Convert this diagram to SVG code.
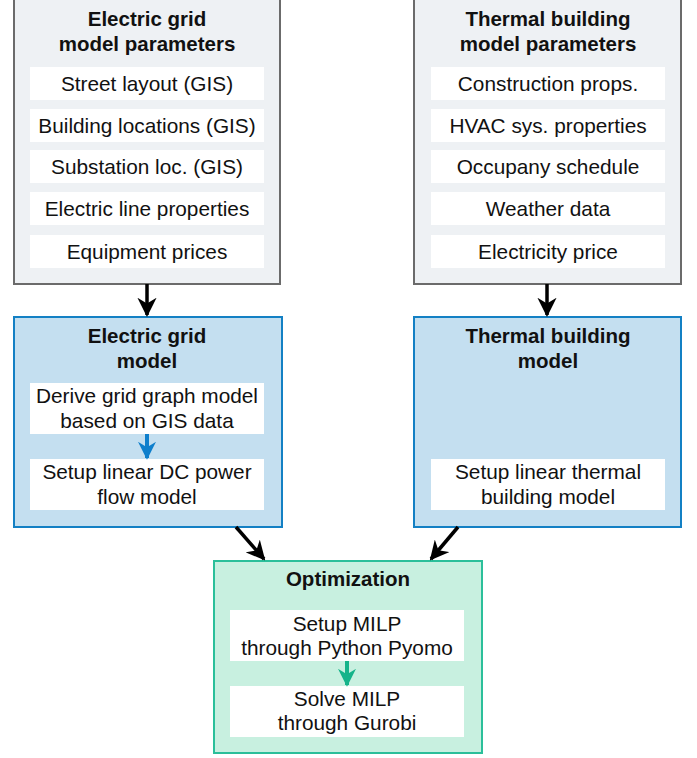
<svg xmlns="http://www.w3.org/2000/svg" width="697" height="758" viewBox="0 0 697 758">
<defs>
<style>
.gray{fill:#eef1f4;stroke:#6b6b6b;stroke-width:2}
.blue{fill:#c4dff0;stroke:#1380c4;stroke-width:2}
.green{fill:#c8f0e0;stroke:#2bbf9a;stroke-width:2}
.item{fill:#ffffff;stroke:none}
.t{font-family:"Liberation Sans",Arial,sans-serif;font-size:20.8px;fill:#111;text-anchor:middle}
.b{font-weight:bold;font-size:20.5px}
.blk{stroke:#000;stroke-width:3.5;fill:none}
</style>
<marker id="ah" viewBox="0 0 10 10" refX="9" refY="5" markerWidth="5.5" markerHeight="5.5" orient="auto" markerUnits="strokeWidth">
<path d="M0,0 L10,5 L0,10 L3,5 Z" fill="#000"/>
</marker>
<marker id="ahb" viewBox="0 0 10 10" refX="9" refY="5" markerWidth="4.5" markerHeight="4.5" orient="auto" markerUnits="strokeWidth">
<path d="M0,0 L10,5 L0,10 L3,5 Z" fill="#0e7fcc"/>
</marker>
<marker id="ahg" viewBox="0 0 10 10" refX="9" refY="5" markerWidth="4.5" markerHeight="4.5" orient="auto" markerUnits="strokeWidth">
<path d="M0,0 L10,5 L0,10 L3,5 Z" fill="#16b38a"/>
</marker>
</defs>
<g id="egparams">
<rect class="gray" x="14" y="-1" width="266" height="285"/>
<text class="t b" x="147" y="26">Electric grid</text>
<text class="t b" x="147" y="51">model parameters</text>
<rect class="item" x="30" y="67" width="234" height="33"/>
<text class="t" x="147" y="91">Street layout (GIS)</text>
<rect class="item" x="30" y="109" width="234" height="33"/>
<text class="t" x="147" y="133">Building locations (GIS)</text>
<rect class="item" x="30" y="150" width="234" height="33"/>
<text class="t" x="147" y="174">Substation loc. (GIS)</text>
<rect class="item" x="30" y="192" width="234" height="33"/>
<text class="t" x="147" y="216">Electric line properties</text>
<rect class="item" x="30" y="235" width="234" height="33"/>
<text class="t" x="147" y="259">Equipment prices</text>
</g>
<g id="tbparams">
<rect class="gray" x="414" y="-1" width="267" height="285"/>
<text class="t b" x="548" y="26">Thermal building</text>
<text class="t b" x="548" y="51">model parameters</text>
<rect class="item" x="431" y="67" width="234" height="33"/>
<text class="t" x="548" y="91">Construction props.</text>
<rect class="item" x="431" y="109" width="234" height="33"/>
<text class="t" x="548" y="133">HVAC sys. properties</text>
<rect class="item" x="431" y="150" width="234" height="33"/>
<text class="t" x="548" y="174">Occupany schedule</text>
<rect class="item" x="431" y="192" width="234" height="33"/>
<text class="t" x="548" y="216">Weather data</text>
<rect class="item" x="431" y="235" width="234" height="33"/>
<text class="t" x="548" y="259">Electricity price</text>
</g>
<g id="egmodel">
<rect class="blue" x="14" y="317" width="268" height="210"/>
<text class="t b" x="147" y="343">Electric grid</text>
<text class="t b" x="147" y="368">model</text>
<rect class="item" x="30" y="383" width="234" height="51"/>
<text class="t" x="147" y="403">Derive grid graph model</text>
<text class="t" x="147" y="428">based on GIS data</text>
<rect class="item" x="30" y="459" width="234" height="51"/>
<text class="t" x="147" y="479">Setup linear DC power</text>
<text class="t" x="147" y="504">flow model</text>
<line x1="147" y1="434" x2="147" y2="458" stroke="#0e7fcc" stroke-width="4" marker-end="url(#ahb)"/>
</g>
<g id="tbmodel">
<rect class="blue" x="414" y="317" width="267" height="210"/>
<text class="t b" x="548" y="343">Thermal building</text>
<text class="t b" x="548" y="368">model</text>
<rect class="item" x="431" y="459" width="234" height="51"/>
<text class="t" x="548" y="479">Setup linear thermal</text>
<text class="t" x="548" y="504">building model</text>
</g>
<g id="optimization">
<rect class="green" x="214" y="561" width="268" height="192"/>
<text class="t b" x="348" y="586">Optimization</text>
<rect class="item" x="230" y="610" width="234" height="51"/>
<text class="t" x="347" y="631">Setup MILP</text>
<text class="t" x="347" y="655">through Python Pyomo</text>
<rect class="item" x="230" y="686" width="234" height="51"/>
<text class="t" x="347" y="706">Solve MILP</text>
<text class="t" x="347" y="730">through Gurobi</text>
<line x1="347" y1="661" x2="347" y2="685" stroke="#16b38a" stroke-width="4" marker-end="url(#ahg)"/>
</g>
<g id="connectors">
<line class="blk" x1="147" y1="284" x2="147" y2="315" marker-end="url(#ah)"/>
<line class="blk" x1="547" y1="284" x2="547" y2="315" marker-end="url(#ah)"/>
<line class="blk" x1="236" y1="527" x2="264" y2="559" marker-end="url(#ah)"/>
<line class="blk" x1="458" y1="527" x2="431" y2="559" marker-end="url(#ah)"/>
</g>
</svg>
